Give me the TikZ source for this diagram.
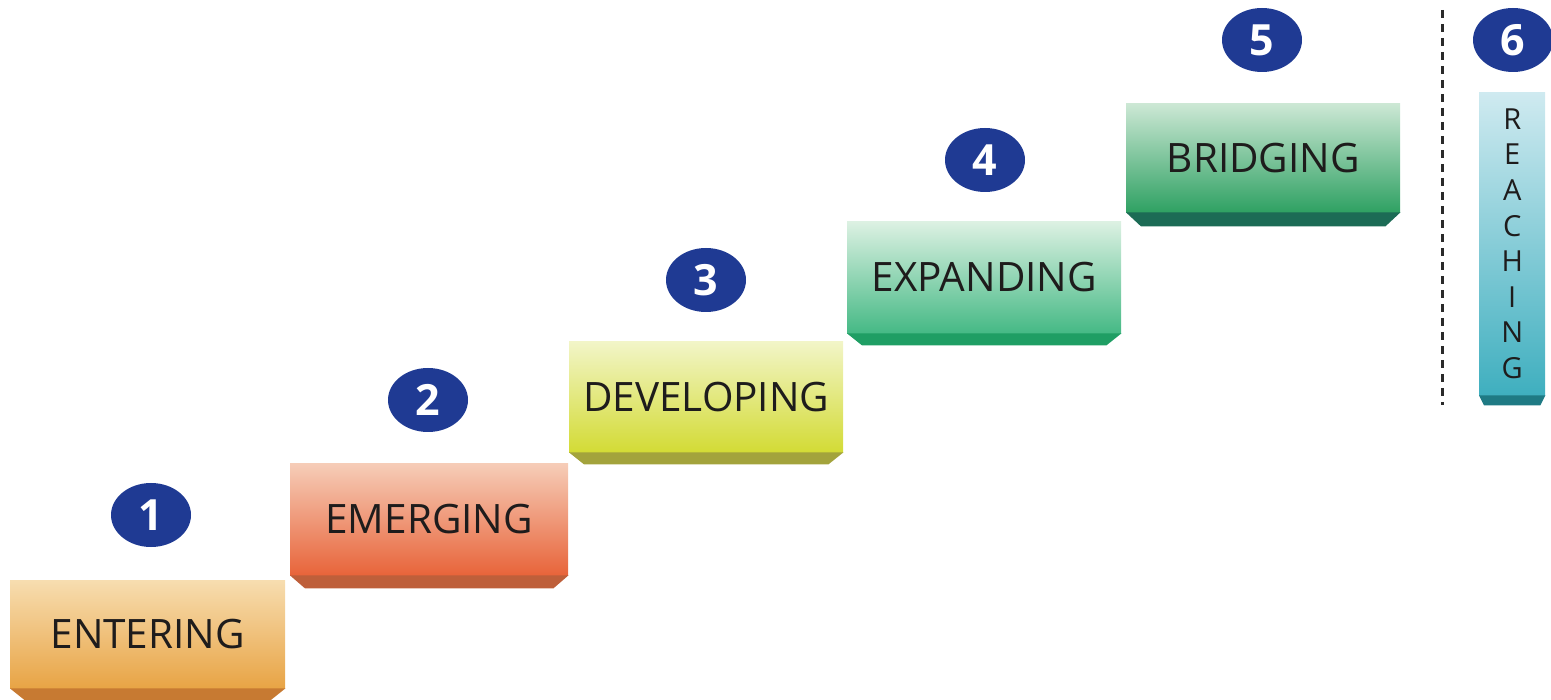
\documentclass[tikz,border=0pt]{standalone}
\usepackage{fontspec}
\setmainfont{Open Sans}
\usetikzlibrary{shapes.geometric}
\definecolor{navy}{HTML}{1F3A93}
\definecolor{txt}{HTML}{1E1C1C}
\definecolor{aT}{HTML}{F7DDB0}\definecolor{aB}{HTML}{E8A445}\definecolor{aS}{HTML}{C77A32}
\definecolor{bT}{HTML}{F6CDB8}\definecolor{bB}{HTML}{E8643A}\definecolor{bS}{HTML}{BE5F3A}
\definecolor{cT}{HTML}{F2F5C8}\definecolor{cB}{HTML}{D3DB35}\definecolor{cS}{HTML}{A3A33C}
\definecolor{dT}{HTML}{DDF1E3}\definecolor{dB}{HTML}{45B985}\definecolor{dS}{HTML}{1F9E64}
\definecolor{eT}{HTML}{CDE8D5}\definecolor{eB}{HTML}{2FA163}\definecolor{eS}{HTML}{1C6B55}
\definecolor{fT}{HTML}{CFEAF0}\definecolor{fB}{HTML}{3FAFBF}\definecolor{fS}{HTML}{1F7A84}
\definecolor{dashc}{HTML}{2A2A2A}
\begin{document}
\begin{tikzpicture}[x=1pt,y=-1pt,
  face/.style={inner sep=0pt, anchor=north west, text=txt, shading=axis,
    font=\fontsize{40.5}{44}\selectfont},
  num/.style={ellipse, fill=navy, minimum width=80pt, minimum height=64pt,
    inner sep=0pt, text=white, font=\bfseries\fontsize{43}{43}\selectfont}
]
\useasboundingbox (0,0) rectangle (1551,700);

% step faces
\node[face, top color=aT, bottom color=aB, minimum width=275pt, minimum height=108pt] (s1) at (10,580) {ENTERING};
\node[face, top color=bT, bottom color=bB, minimum width=278pt, minimum height=112pt] (s2) at (290,463) {EMERGING};
\node[face, top color=cT, bottom color=cB, minimum width=274pt, minimum height=111pt] (s3) at (569,341) {DEVELOPING};
\node[face, top color=dT, bottom color=dB, minimum width=274pt, minimum height=112pt] (s4) at (847,221) {EXPANDING};
\node[face, top color=eT, bottom color=eB, minimum width=274pt, minimum height=109pt] (s5) at (1126,103) {BRIDGING};
\node[face, top color=fT, bottom color=fB, minimum width=66pt, minimum height=303pt,
  align=center, font=\fontsize{29}{35.6}\selectfont] (s6) at (1479,92) {R\\E\\A\\C\\H\\I\\N\\G};

% bottom strips
\fill[aS] (s1.south west) -- (s1.south east) -- ([xshift=-15pt,yshift=-12pt]s1.south east) -- ([xshift=15pt,yshift=-12pt]s1.south west) -- cycle;
\fill[bS] (s2.south west) -- (s2.south east) -- ([xshift=-15pt,yshift=-13pt]s2.south east) -- ([xshift=15pt,yshift=-13pt]s2.south west) -- cycle;
\fill[cS] (s3.south west) -- (s3.south east) -- ([xshift=-15pt,yshift=-12pt]s3.south east) -- ([xshift=15pt,yshift=-12pt]s3.south west) -- cycle;
\fill[dS] (s4.south west) -- (s4.south east) -- ([xshift=-15pt,yshift=-12pt]s4.south east) -- ([xshift=15pt,yshift=-12pt]s4.south west) -- cycle;
\fill[eS] (s5.south west) -- (s5.south east) -- ([xshift=-15pt,yshift=-14pt]s5.south east) -- ([xshift=15pt,yshift=-14pt]s5.south west) -- cycle;
\fill[fS] (s6.south west) -- (s6.south east) -- ([xshift=-5pt,yshift=-10pt]s6.south east) -- ([xshift=5pt,yshift=-10pt]s6.south west) -- cycle;

% numbers
\node[num] (n1) at (151,515) {1};
\node[num] (n2) at (428,400) {2};
\node[num] (n3) at (706,280) {3};
\node[num] (n4) at (985,160) {4};
\node[num] (n5) at (1262,40) {5};
\node[num] (n6) at (1513,40) {6};

% separator
\coordinate (d1) at (1442,10);
\coordinate (d2) at (1442,405);
\draw[dashc, line width=3pt, dash pattern=on 8pt off 6pt] (d1) -- (d2);
\end{tikzpicture}
\end{document}
